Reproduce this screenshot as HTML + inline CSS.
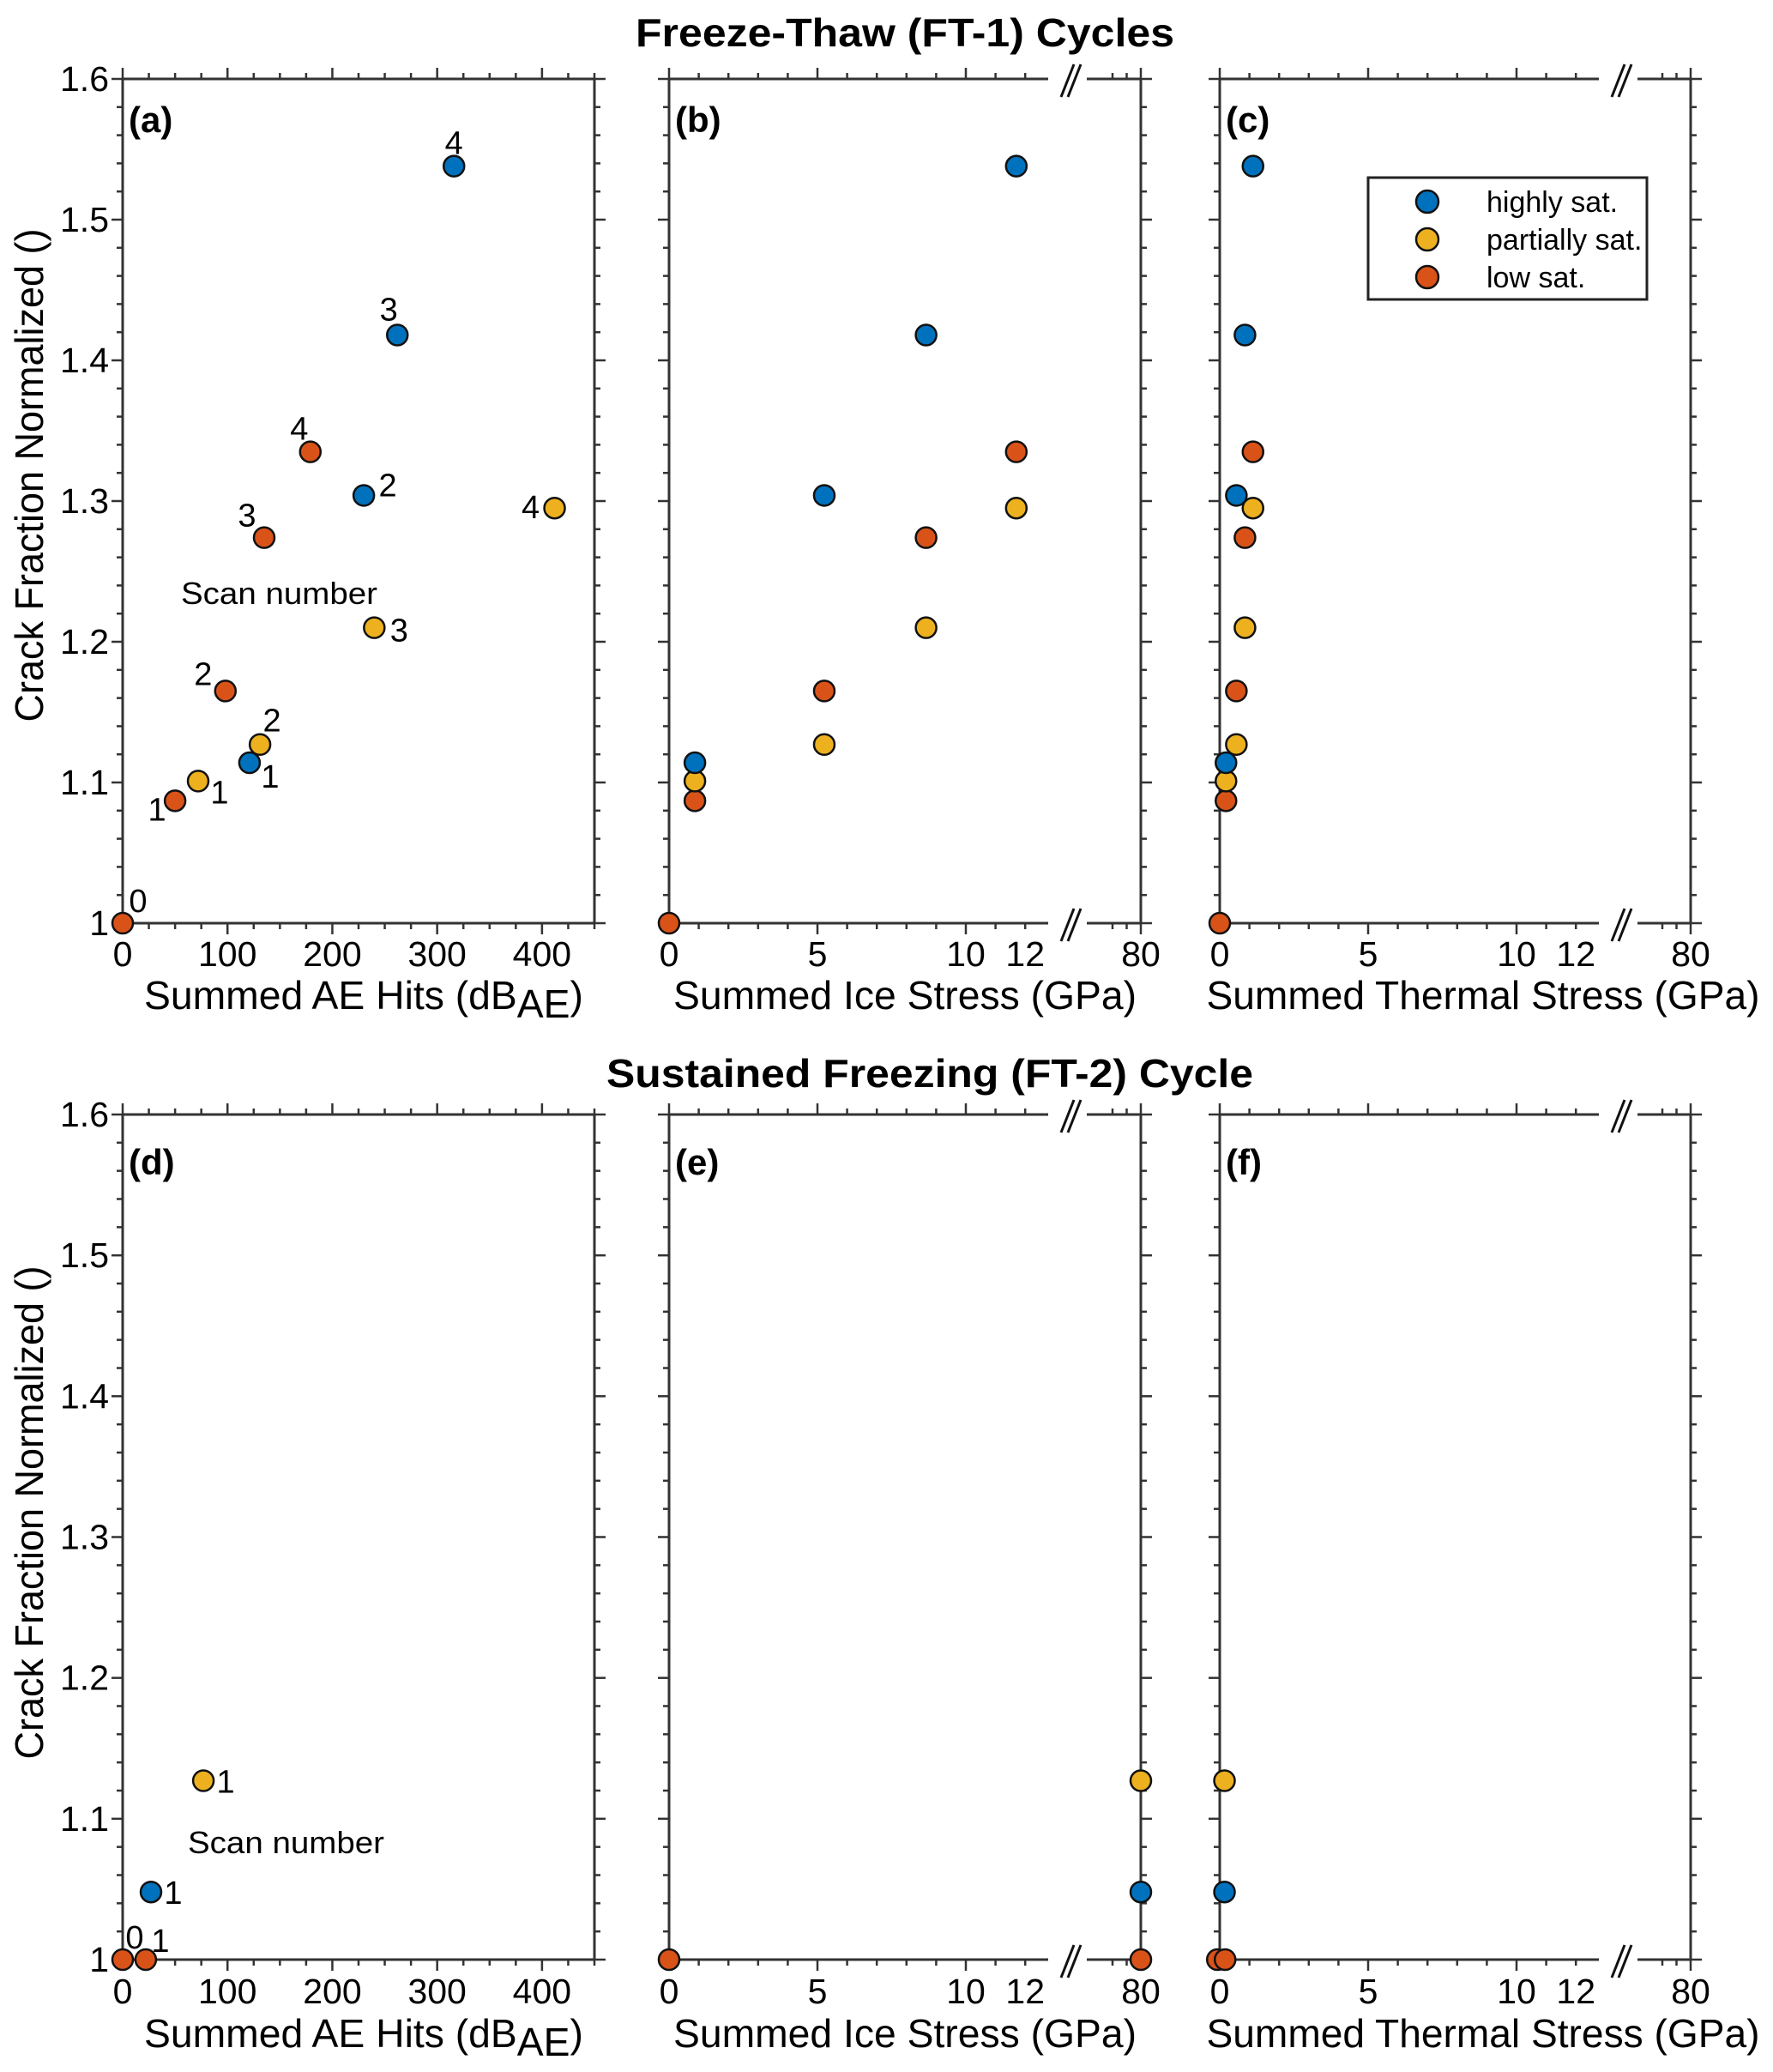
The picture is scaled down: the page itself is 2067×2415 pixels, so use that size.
<!DOCTYPE html>
<html><head><meta charset="utf-8">
<style>
html,body{margin:0;padding:0;background:#fff;}
svg{display:block;font-family:"Liberation Sans",Arial,sans-serif;}
</style></head>
<body>
<svg id="fig" width="2067" height="2415" viewBox="0 0 2067 2415" xmlns="http://www.w3.org/2000/svg">
<text x="1055" y="54" font-size="46" font-weight="bold" text-anchor="middle" textLength="628" lengthAdjust="spacingAndGlyphs">Freeze-Thaw (FT-1) Cycles</text>
<text x="1084" y="1267" font-size="46" font-weight="bold" text-anchor="middle" textLength="754" lengthAdjust="spacingAndGlyphs">Sustained Freezing (FT-2) Cycle</text>
</svg>
<script>
// ---- data ----
const seriesNames = ['highly sat.', 'partially sat.', 'low sat.'];
const seriesColors = ['#0072BD', '#EDB120', '#D95319'];
const ft1Blue = [1.114, 1.304, 1.418, 1.538];
const ft1Yellow = [1.101, 1.127, 1.210, 1.295];
const ft1Red = [1.0, 1.087, 1.165, 1.274, 1.335];
const aeBlue = [121, 230, 262, 316];
const aeYellow = [72, 131, 240, 412];
const aeRed = [0, 50, 98, 135, 179];
const iceBlue = [0.87, 5.23, 8.66, 11.7];
const iceYellow = [0.87, 5.23, 8.66, 11.7];
const iceRed = [0, 0.87, 5.23, 8.66, 11.7];
const thBlue = [0.21, 0.56, 0.85, 1.12];
const thYellow = [0.21, 0.56, 0.85, 1.12];
const thRed = [0, 0.21, 0.56, 0.85, 1.12];
const lblBlue = ['1', '2', '3', '4'];
const lblYellow = ['1', '2', '3', '4'];
const lblRed = ['0', '1', '2', '3', '4'];
const ft2Blue = [1.048];
const ft2Yellow = [1.127];
const ft2Red = [1.0, 1.0];
const ae2Blue = [27];
const ae2Yellow = [77];
const ae2Red = [0, 22];
const ice2Blue = [80];
const ice2Yellow = [80];
const ice2Red = [0, 80];
const th2Blue = [0.16];
const th2Yellow = [0.16];
const th2Red = [-0.08, 0.18];
const lbl2Blue = ['1'];
const lbl2Yellow = ['1'];
const lbl2Red = ['0', '1'];
const yTicks = ['1', '1.1', '1.2', '1.3', '1.4', '1.5', '1.6'];
const aeTicks = [0, 100, 200, 300, 400];
const stressTicks = [0, 5, 10, 12];

const offA = {
  b: [[24, 29], [28, 1], [-10, -17], [0, -14]],
  y: [[25, 26], [14, -15], [29, 16], [-28, 12]],
  r: [[18, -13], [-21, 23], [-26, -7], [-20, -13], [-13, -14]]
};
const offD = { b: [[26, 14]], y: [[26, 14]], r: [[14, -13], [17, -9]] };

const NS = 'http://www.w3.org/2000/svg';
const svg = document.getElementById('fig');
function mk(tag, attrs, parent) {
  const e = document.createElementNS(NS, tag);
  for (const k in attrs) e.setAttribute(k, attrs[k]);
  (parent || svg).appendChild(e);
  return e;
}
const cols = [[143, 693], [780, 1330], [1422, 1971]];
const rows = [[92, 1076], [1299, 2284]];

function yScale(r) { const [t, b] = rows[r]; return v => b - (v - 1.0) / 0.6 * (b - t); }
function aeScale(c) { const [l, r] = cols[c]; return v => l + v / 450 * (r - l); }
function brkScale(c) { const [l, r] = cols[c]; return v => v <= 14 ? l + v * 34.6 : r + (v - 80) * 16.5; }

function drawAxes(c, r, kind, tickVals, xs) {
  const [l, rr] = cols[c]; const [t, b] = rows[r]; const ys = yScale(r);
  const g = mk('g', {});
  
  
  const st = { stroke: '#333', 'stroke-width': 3, fill: 'none' };
  mk('line', Object.assign({ x1: l, y1: t, x2: l, y2: b }, st), g);
  mk('line', Object.assign({ x1: rr, y1: t, x2: rr, y2: b }, st), g);
  if (kind === 'ae') {
    mk('line', Object.assign({ x1: l, y1: t, x2: rr, y2: t }, st), g);
    mk('line', Object.assign({ x1: l, y1: b, x2: rr, y2: b }, st), g);
  } else {
    [t, b].forEach(yy => {
      mk('line', Object.assign({ x1: l, y1: yy, x2: l + 442, y2: yy }, st), g);
      mk('line', Object.assign({ x1: l + 487, y1: yy, x2: rr, y2: yy }, st), g);
      mk('line', { x1: l + 457, y1: yy + 21, x2: l + 472, y2: yy - 17, stroke: '#111', 'stroke-width': 3 }, g);
      mk('line', { x1: l + 465, y1: yy + 21, x2: l + 480, y2: yy - 17, stroke: '#111', 'stroke-width': 3 }, g);
    });
  }
  for (let i = 0; i <= 30; i++) {
    const v = 1 + i * 0.02; const yy = ys(v); const major = i % 5 === 0; const L = major ? 13 : 7;
    mk('line', { x1: l - L, y1: yy, x2: l, y2: yy, stroke: '#333', 'stroke-width': 2.5 }, g);
    mk('line', { x1: rr, y1: yy, x2: rr + L, y2: yy, stroke: '#333', 'stroke-width': 2.5 }, g);
  }
  if (c === 0) {
    yTicks.forEach((s, i) => {
      const tx = mk('text', { x: l - 16, y: ys(1 + i * 0.1) + 14, 'font-size': 41, 'text-anchor': 'end' }, g);
      
      
      tx.textContent = s;
    });
  }
  const xt = [];
  if (kind === 'ae') { for (let v = 0; v <= 450; v += 25) xt.push([v, v % 100 === 0]); }
  else { for (let v = 0; v <= 12; v++) xt.push([v, v % 5 === 0]); xt.push([78, false]); xt.push([79, false]); xt.push([80, true]); }
  xt.forEach(([v, major]) => {
    const xx = xs(v); const L = major ? 13 : 7;
    mk('line', { x1: xx, y1: b, x2: xx, y2: b + L, stroke: '#333', 'stroke-width': 2.5 }, g);
    mk('line', { x1: xx, y1: t - L, x2: xx, y2: t, stroke: '#333', 'stroke-width': 2.5 }, g);
  });
  const tyb = r === 0 ? 1126 : 2335;
  const labs = kind === 'ae' ? tickVals : tickVals.concat([80]);
  labs.forEach(v => {
    const tx = mk('text', { x: xs(v), y: tyb, 'font-size': 41, 'text-anchor': 'middle' }, g);
    
    
    tx.textContent = String(v);
  });
  const tb = r === 0 ? 1176 : 2386;
  let cx = (l + rr) / 2, len = 540;
  if (kind === 'ae') { cx = 424; len = 512; }
  if (kind === 'th') { cx = 1729; len = 645; }
  const title = mk('text', { x: cx, y: tb, 'font-size': 46, 'text-anchor': 'middle', textLength: len, lengthAdjust: 'spacingAndGlyphs' }, g);
  
  
  if (kind === 'ae') {
    title.innerHTML = 'Summed AE Hits (dB<tspan dy="10">AE</tspan><tspan dy="-10">)</tspan>';
  } else {
    title.textContent = kind === 'ice' ? 'Summed Ice Stress (GPa)' : 'Summed Thermal Stress (GPa)';
  }
  const pl = mk('text', { x: l + 7, y: r === 0 ? 154 : 1369, 'font-size': 42, 'font-weight': 'bold' }, g);
  
  
  pl.textContent = '(' + 'abcdef'[r * 3 + c] + ')';
}

function drawPts(xs, ys, xv, yv, color, labels, offs, name) {
  xv.forEach((x, i) => {
    const e = mk('circle', { cx: xs(x), cy: ys(yv[i]), r: 12, fill: color, stroke: '#111', 'stroke-width': 2.5 });
    
    
    if (labels && offs) {
      const t = mk('text', { x: xs(x) + offs[i][0], y: ys(yv[i]) + offs[i][1], 'font-size': 38, 'text-anchor': 'middle' });
      
      
      t.textContent = labels[i];
    }
  });
}

const kinds = ['ae', 'ice', 'th'];
for (let r = 0; r < 2; r++) {
  for (let c = 0; c < 3; c++) {
    const xs = c === 0 ? aeScale(c) : brkScale(c);
    drawAxes(c, r, kinds[c], c === 0 ? aeTicks : stressTicks, xs);
  }
  const yt = mk('text', { x: 0, y: 0, 'font-size': 46, 'text-anchor': 'middle', transform: 'translate(50,' + (r === 0 ? 554 : 1763) + ') rotate(-90)', textLength: 575, lengthAdjust: 'spacingAndGlyphs' });
  
  
  yt.textContent = 'Crack Fraction Normalized ()';
}

let ys = yScale(0);
drawPts(aeScale(0), ys, aeRed, ft1Red, seriesColors[2], lblRed, offA.r, 'low-sat');
drawPts(aeScale(0), ys, aeYellow, ft1Yellow, seriesColors[1], lblYellow, offA.y, 'partially-sat');
drawPts(aeScale(0), ys, aeBlue, ft1Blue, seriesColors[0], lblBlue, offA.b, 'highly-sat');
drawPts(brkScale(1), ys, iceRed, ft1Red, seriesColors[2], null, null, 'low-sat');
drawPts(brkScale(1), ys, iceYellow, ft1Yellow, seriesColors[1], null, null, 'partially-sat');
drawPts(brkScale(1), ys, iceBlue, ft1Blue, seriesColors[0], null, null, 'highly-sat');
drawPts(brkScale(2), ys, thRed, ft1Red, seriesColors[2], null, null, 'low-sat');
drawPts(brkScale(2), ys, thYellow, ft1Yellow, seriesColors[1], null, null, 'partially-sat');
drawPts(brkScale(2), ys, thBlue, ft1Blue, seriesColors[0], null, null, 'highly-sat');
ys = yScale(1);
drawPts(aeScale(0), ys, ae2Red, ft2Red, seriesColors[2], lbl2Red, offD.r, 'low-sat');
drawPts(aeScale(0), ys, ae2Yellow, ft2Yellow, seriesColors[1], lbl2Yellow, offD.y, 'partially-sat');
drawPts(aeScale(0), ys, ae2Blue, ft2Blue, seriesColors[0], lbl2Blue, offD.b, 'highly-sat');
drawPts(brkScale(1), ys, ice2Red, ft2Red, seriesColors[2], null, null, 'low-sat');
drawPts(brkScale(1), ys, ice2Yellow, ft2Yellow, seriesColors[1], null, null, 'partially-sat');
drawPts(brkScale(1), ys, ice2Blue, ft2Blue, seriesColors[0], null, null, 'highly-sat');
drawPts(brkScale(2), ys, th2Red, ft2Red, seriesColors[2], null, null, 'low-sat');
drawPts(brkScale(2), ys, th2Yellow, ft2Yellow, seriesColors[1], null, null, 'partially-sat');
drawPts(brkScale(2), ys, th2Blue, ft2Blue, seriesColors[0], null, null, 'highly-sat');

[[211, 704], [219, 2160]].forEach(p => {
  const t = mk('text', { x: p[0], y: p[1], 'font-size': 36, textLength: 229, lengthAdjust: 'spacingAndGlyphs' });
  
  
  t.textContent = 'Scan number';
});

const lg = mk('g', {});


mk('rect', { x: 1595, y: 207, width: 325, height: 142, fill: '#fff', stroke: '#222', 'stroke-width': 3 }, lg);
seriesNames.forEach((n, i) => {
  const yy = 235 + i * 44;
  const c = mk('circle', { cx: 1664, cy: yy, r: 13, fill: seriesColors[i], stroke: '#111', 'stroke-width': 2.5 }, lg);
  
  
  const t = mk('text', { x: 1733, y: yy + 12, 'font-size': 34 }, lg);
  
  
  t.textContent = n;
});
</script>
</body></html>
